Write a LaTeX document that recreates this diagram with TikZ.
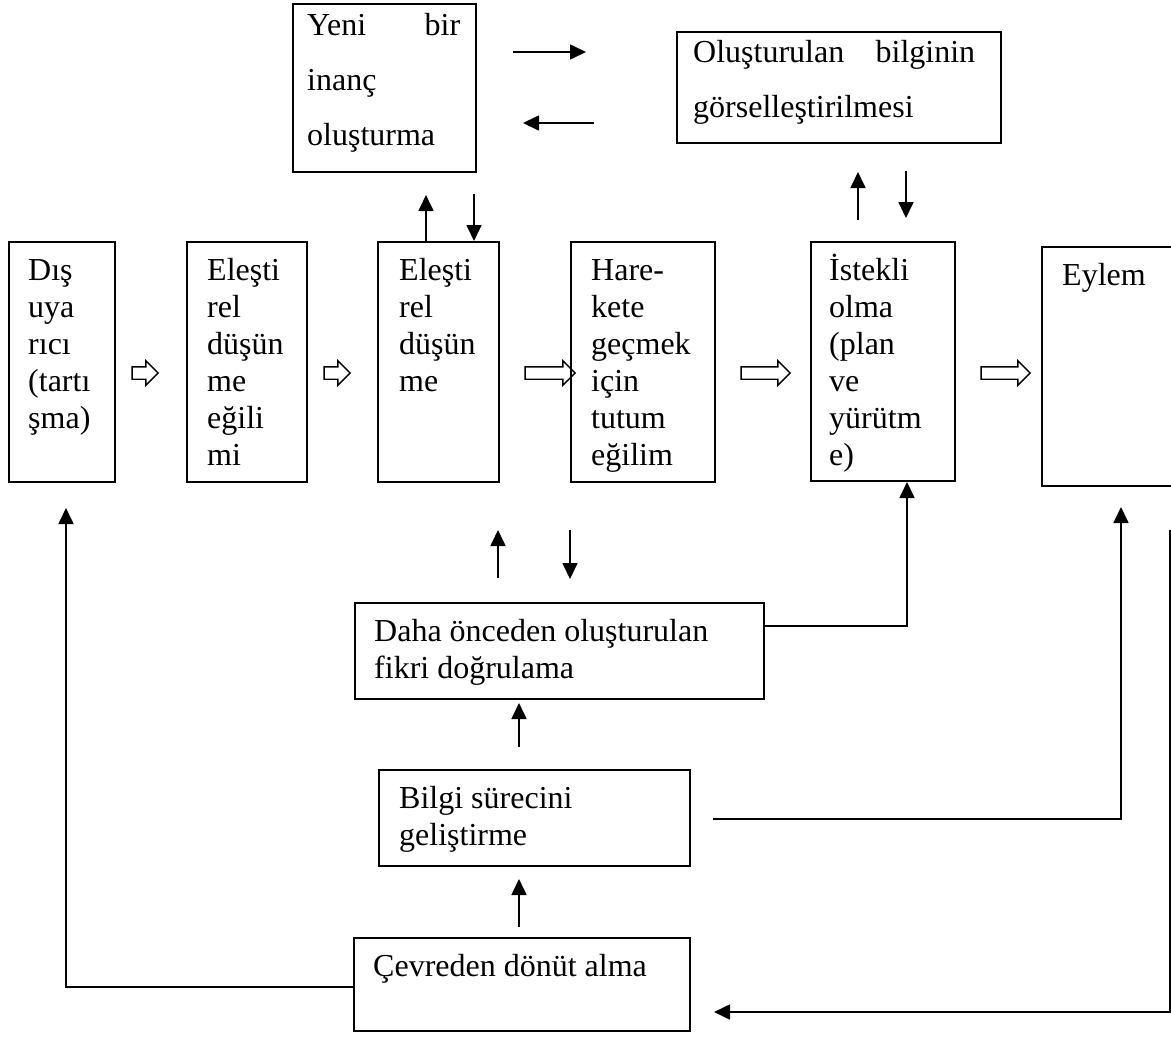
\documentclass[tikz,border=0pt]{standalone}
\usepackage{fontspec}
\setmainfont{Liberation Serif}
\usetikzlibrary{arrows.meta,shapes.arrows,calc}
\begin{document}
\begin{tikzpicture}[x=1pt,y=-1pt,
  box/.style={draw, line width=2pt, inner sep=0pt, anchor=north west},
  txt/.style={anchor=north west, inner sep=0pt, align=left, font=\fontsize{32}{37}\selectfont},
  txtw/.style={anchor=north west, inner sep=0pt, align=left, font=\fontsize{32}{55}\selectfont},
  conn/.style={line width=1.7pt, -{Triangle[length=16pt,width=15pt]}},
  blk/.style={single arrow, draw, line width=1.4pt, inner xsep=0pt, inner ysep=5.5pt,
    minimum height=#1, minimum width=23pt, single arrow head extend=6pt, single arrow tip angle=90}
]
\path[fill=white, use as bounding box] (0,0) rectangle (1171,1039);

% top boxes
\node[box, minimum width=183pt, minimum height=168pt] (yeni) at (292,3) {};
\node[txtw] (tyeni) at (307,5) {\rule{0pt}{30pt}\makebox[153pt][s]{Yeni bir}\\inanç\\oluşturma};
\node[box, minimum width=324pt, minimum height=111pt] (olus) at (676,31) {};
\node[txtw] (tolus) at (693,32) {\rule{0pt}{30pt}\makebox[282pt][s]{Oluşturulan bilginin}\\görselleştirilmesi};

% row boxes
\node[box, minimum width=106pt, minimum height=240pt] (b1) at (8,241) {};
\node[txt] (t1) at (28,250) {\rule{0pt}{30pt}Dış\\uya\\rıcı\\(tartı\\şma)};
\node[box, minimum width=120pt, minimum height=240pt] (b2) at (186,241) {};
\node[txt] (t2) at (207,250) {\rule{0pt}{30pt}Eleşti\\rel\\düşün\\me\\eğili\\mi};
\node[box, minimum width=121pt, minimum height=240pt] (b3) at (377,241) {};
\node[txt] (t3) at (399,250) {\rule{0pt}{30pt}Eleşti\\rel\\düşün\\me};
\node[box, minimum width=144pt, minimum height=240pt] (b4) at (570,241) {};
\node[txt] (t4) at (591,250) {\rule{0pt}{30pt}Hare-\\kete\\geçmek\\için\\tutum\\eğilim};
\node[box, minimum width=144pt, minimum height=239pt] (b5) at (810,241) {};
\node[txt] (t5) at (829,250) {\rule{0pt}{30pt}İstekli\\olma\\(plan\\ve\\yürütm\\e)};
\node[box, minimum width=150pt, minimum height=239pt] (b6) at (1041,246) {};
\node[txt] (t6) at (1062,255) {\rule{0pt}{30pt}Eylem};

% block arrows
\node[blk=26pt] (a1) at (142,373) {};
\node[blk=26pt] (a2) at (334,373) {};
\node[blk=50pt] (a3) at (547,373) {};
\node[blk=49pt] (a4) at (762.5,373) {};
\node[blk=49pt] (a5) at (1002.5,373) {};

% bottom boxes
\node[box, minimum width=409pt, minimum height=96pt] (daha) at (354,602) {};
\node[txt] (tdaha) at (374,611) {\rule{0pt}{30pt}Daha önceden oluşturulan\\fikri doğrulama};
\node[box, minimum width=311pt, minimum height=96pt] (bilgi) at (378,769) {};
\node[txt] (tbilgi) at (399,778) {\rule{0pt}{30pt}Bilgi sürecini\\geliştirme};
\node[box, minimum width=336pt, minimum height=93pt] (cevre) at (353,937) {};
\node[txt] (tcevre) at (373,946) {\rule{0pt}{30pt}Çevreden dönüt alma};

% free ends
\coordinate (r1s) at (513,52);  \coordinate (r1e) at (586,52);
\coordinate (l1s) at (594,123); \coordinate (l1e) at (523,123);
\coordinate (u1e) at (426,195); \coordinate (d1s) at (474,194);
\coordinate (u2s) at (858,220); \coordinate (u2e) at (858,172);
\coordinate (d2s) at (906,171); \coordinate (d2e) at (906,218);
\coordinate (u3s) at (498,578); \coordinate (u3e) at (498,530);
\coordinate (d3s) at (570,530); \coordinate (d3e) at (570,579);
\coordinate (u4s) at (519,747); \coordinate (u4e) at (519,703);
\coordinate (u5s) at (519,927); \coordinate (u5e) at (519,879);
\coordinate (bgs) at (713,819); \coordinate (bge) at (1121,507);
\coordinate (dse) at (66,508);
\coordinate (rts) at (1170,530); \coordinate (rte) at (714,1012);

% connectors
\draw[conn] (r1s) -- (r1e);
\draw[conn] (l1s) -- (l1e);
\draw[conn] (b3.north west -| u1e) -- (u1e);
\draw[conn] (d1s) -- (b3.north west -| d1s);
\draw[conn] (u2s) -- (u2e);
\draw[conn] (d2s) -- (d2e);
\draw[conn] (u3s) -- (u3e);
\draw[conn] (d3s) -- (d3e);
\draw[conn] (daha.north east |- 0,626) -| ($(b5.south west)+(97,0)$);
\draw[conn] (u4s) -- (u4e);
\draw[conn] (u5s) -- (u5e);
\draw[conn] (bgs) -| (bge);
\draw[conn] (cevre.north west |- 0,987) -| (dse);
\draw[conn] (rts) |- (rte);
\end{tikzpicture}
\end{document}
